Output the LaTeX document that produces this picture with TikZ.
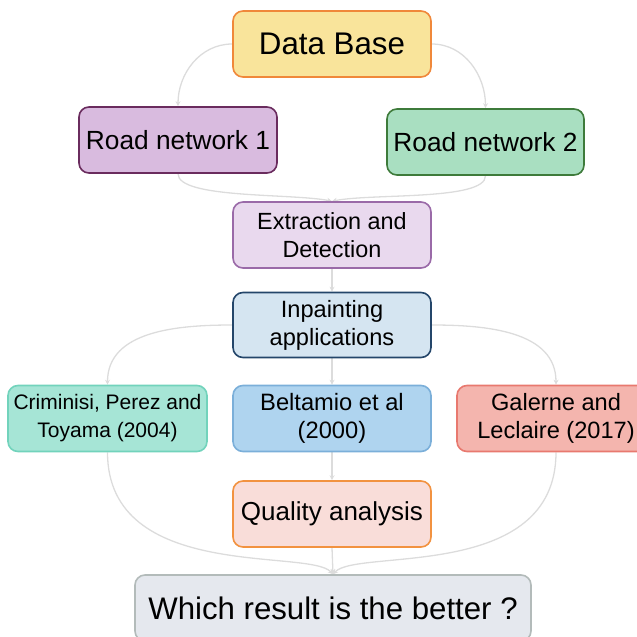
\documentclass[tikz,border=0pt]{standalone}
\usepackage{fontspec}
\setmainfont{Liberation Sans}
\usetikzlibrary{arrows.meta,backgrounds}

% box colours
\definecolor{dbFill}{HTML}{F9E49B}   \definecolor{dbLine}{HTML}{F0883A}
\definecolor{raFill}{HTML}{D9BBDF}   \definecolor{raLine}{HTML}{6A2C5E}
\definecolor{rbFill}{HTML}{A9DFC1}   \definecolor{rbLine}{HTML}{3E7B3B}
\definecolor{exFill}{HTML}{E9D9EE}   \definecolor{exLine}{HTML}{9A6AA8}
\definecolor{inFill}{HTML}{D5E5F1}   \definecolor{inLine}{HTML}{24466A}
\definecolor{crFill}{HTML}{A6E5D6}   \definecolor{crLine}{HTML}{72D3BC}
\definecolor{beFill}{HTML}{AFD4EF}   \definecolor{beLine}{HTML}{7BAFD9}
\definecolor{gaFill}{HTML}{F4B5AE}   \definecolor{gaLine}{HTML}{E8796F}
\definecolor{quFill}{HTML}{F9DDD9}   \definecolor{quLine}{HTML}{F29240}
\definecolor{whFill}{HTML}{E5E8EE}   \definecolor{whLine}{HTML}{B3BBBA}
\definecolor{linkGray}{HTML}{DCDCDC}

\tikzset{
  box/.style={draw, line width=1.6pt, rounded corners=10pt,
    minimum width=198pt, minimum height=66pt, align=center,
    inner sep=0pt, text=black},
  link/.style={draw=linkGray, line width=1.3pt,
    -{Stealth[length=5pt,width=5pt]}},
}

\begin{document}
\begin{tikzpicture}[x=1pt, y=-1pt]
  \useasboundingbox (0,0) rectangle (637,637);
  \clip (0,0) rectangle (637,637);

  % boxes
  \node[box, fill=dbFill, draw=dbLine, font=\fontsize{31.3}{34}\selectfont]
    (db) at (332,44) {Data Base};
  \node[box, fill=raFill, draw=raLine, font=\fontsize{26.3}{28}\selectfont]
    (ra) at (178,140) {Road network 1};
  \node[box, fill=rbFill, draw=rbLine, minimum width=197pt, font=\fontsize{26.3}{28}\selectfont]
    (rb) at (485.5,142) {Road network 2};
  \node[box, fill=exFill, draw=exLine, font=\fontsize{23.4}{28}\selectfont]
    (ex) at (332,235) {Extraction and\\Detection};
  \node[box, fill=inFill, draw=inLine, minimum height=65pt, font=\fontsize{23.6}{28}\selectfont]
    (in) at (332,325) {Inpainting\\applications};
  \node[box, fill=crFill, draw=crLine, minimum width=199pt, font=\fontsize{21}{28}\selectfont]
    (cr) at (107.5,418.5) {Criminisi, Perez and\\Toyama (2004)};
  \node[box, fill=beFill, draw=beLine, font=\fontsize{23.7}{28}\selectfont]
    (be) at (332,418.5) {Beltamio et al\\(2000)};
  \node[box, fill=gaFill, draw=gaLine, font=\fontsize{23.6}{28}\selectfont]
    (ga) at (556,418.5) {Galerne and\\Leclaire (2017)};
  \node[box, fill=quFill, draw=quLine, font=\fontsize{26}{28}\selectfont]
    (qu) at (332,514) {Quality analysis};
  \node[box, fill=whFill, draw=whLine, minimum width=396pt, font=\fontsize{31.2}{34}\selectfont]
    (wh) at (333,608) {Which result is the better ?};

  % connectors, kept behind the boxes
  \begin{scope}[on background layer]
    \draw[link] (db.west) to[out=180, in=90] (ra.north);
    \draw[link] (db.east) to[out=0, in=90] (rb.north);
    \draw[link] (ra.south) .. controls +(0,25) and +(-40,-8) .. (ex.north);
    \draw[link] (rb.south) .. controls +(0,25) and +(40,-8) .. (ex.north);
    \draw[link] (ex.south) -- (in.north);
    \draw[link] (in.west) to[out=180, in=90] (cr.north);
    \draw[link] (in.east) to[out=0, in=90] (ga.north);
    \draw[link] (in.south) -- (be.north);
    \draw[link] (be.south) -- (qu.north);
    \draw[link] (cr.south) .. controls +(0,130) and +(-24,-26) .. (wh.north);
    \draw[link] (ga.south) .. controls +(0,130) and +(24,-26) .. (wh.north);
    \draw[link] (qu.south) -- (wh.north);
  \end{scope}
\end{tikzpicture}
\end{document}
